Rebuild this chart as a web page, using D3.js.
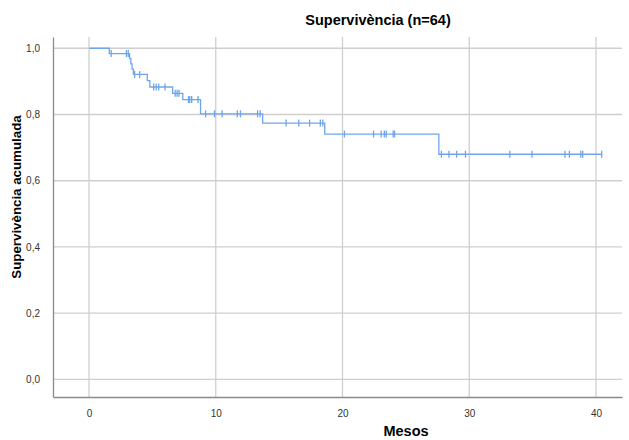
<!DOCTYPE html>
<html><head><meta charset="utf-8">
<script src="https://cdn.jsdelivr.net/npm/d3@7"></script>
<style>body{margin:0;background:#fff}svg{display:block}text{font-family:"Liberation Sans",Arial,sans-serif}</style>
</head><body><svg id="c" width="629" height="440"></svg>
<script>
// Step curve: event times (months) and survival after each event
const stepTimes = [0, 1.6, 3.2, 3.3, 3.4, 3.5, 4.6, 4.8, 6.6, 7.4, 8.8, 13.7, 18.6, 27.6];
const stepSurv  = [1.0, 0.984, 0.969, 0.953, 0.937, 0.921, 0.902, 0.883, 0.864, 0.845, 0.802, 0.774, 0.741, 0.680];
const endTime = 40.45;
// censored observations (months)
const censorTimes = [1.75, 2.95, 3.1, 3.6, 4.0, 5.1, 5.3, 5.5, 6.0, 6.8, 6.95, 7.1,
  7.85, 7.95, 8.1, 8.6, 9.2, 9.9, 10.5, 11.7, 11.95, 13.3, 13.5,
  15.55, 16.55, 17.4, 18.25, 18.45, 20.15, 22.45, 23.05, 23.3, 23.45, 24.0, 24.1,
  27.8, 28.4, 29.0, 29.7, 33.2, 34.95, 37.55, 37.9, 38.8, 38.95, 40.45];
const xTicks = [0, 10, 20, 30, 40];
const yTicks = [0, 0.2, 0.4, 0.6, 0.8, 1.0];
const title = "Supervivència (n=64)";
const xTitle = "Mesos";
const yTitle = "Supervivència acumulada";

const svg = d3.select("#c");
const L = 53, R = 622, T = 37, B = 397;
const x = d3.scaleLinear().domain([-2.84, 42.05]).range([L, R]);
const y = d3.scaleLinear().domain([-0.053, 1.034]).range([B, T]);

// gridlines
svg.append("g").selectAll("line").data(xTicks).join("line")
  .attr("x1", d => x(d)).attr("x2", d => x(d)).attr("y1", T).attr("y2", B)
  .attr("stroke", "#cfcfcf").attr("stroke-width", 1.3);
svg.append("g").selectAll("line").data(yTicks).join("line")
  .attr("x1", L).attr("x2", R).attr("y1", d => y(d)).attr("y2", d => y(d))
  .attr("stroke", "#cfcfcf").attr("stroke-width", 1.3);

// axes
const fmt = d => d3.format(".1f")(d).replace(".", ",");
const xa = svg.append("g").attr("transform", `translate(0,${B})`)
  .call(d3.axisBottom(x).tickValues(xTicks).tickSize(0).tickPadding(13).tickFormat(d3.format("d")));
const ya = svg.append("g").attr("transform", `translate(${L},0)`)
  .call(d3.axisLeft(y).tickValues(yTicks).tickSize(0).tickPadding(13).tickFormat(fmt));
[xa, ya].forEach(a => {
  a.select(".domain").attr("stroke", "#8a8a8a").attr("stroke-width", 1.3);
  a.selectAll("text").attr("font-size", 10).attr("fill", "#333")
    .style("font-family", '"Liberation Sans",Arial,sans-serif');
});

// survival step line
const pts = stepTimes.map((t, i) => [t, stepSurv[i]]);
pts.push([endTime, stepSurv[stepSurv.length - 1]]);
const line = d3.line().x(d => x(d[0])).y(d => y(d[1])).curve(d3.curveStepAfter);
const col = "#6fa5ea";
svg.append("path").datum(pts).attr("d", line).attr("fill", "none")
  .attr("stroke", col).attr("stroke-width", 1.3);

const survAt = t => { let s = 1; stepTimes.forEach((st, i) => { if (st <= t) s = stepSurv[i]; }); return s; };
svg.append("g").selectAll("line").data(censorTimes).join("line")
  .attr("x1", d => x(d)).attr("x2", d => x(d))
  .attr("y1", d => y(survAt(d)) - 3.5).attr("y2", d => y(survAt(d)) + 3.5)
  .attr("stroke", col).attr("stroke-width", 1.3);

// titles
svg.append("text").attr("x", 378).attr("y", 25).attr("text-anchor", "middle")
  .attr("font-size", 14.5).attr("font-weight", "bold").text(title);
svg.append("text").attr("x", 406).attr("y", 436).attr("text-anchor", "middle")
  .attr("font-size", 14.5).attr("font-weight", "bold").text(xTitle);
svg.append("text").attr("transform", "translate(21,197) rotate(-90)").attr("text-anchor", "middle")
  .attr("font-size", 13.3).attr("font-weight", "bold").text(yTitle);
</script></body></html>
